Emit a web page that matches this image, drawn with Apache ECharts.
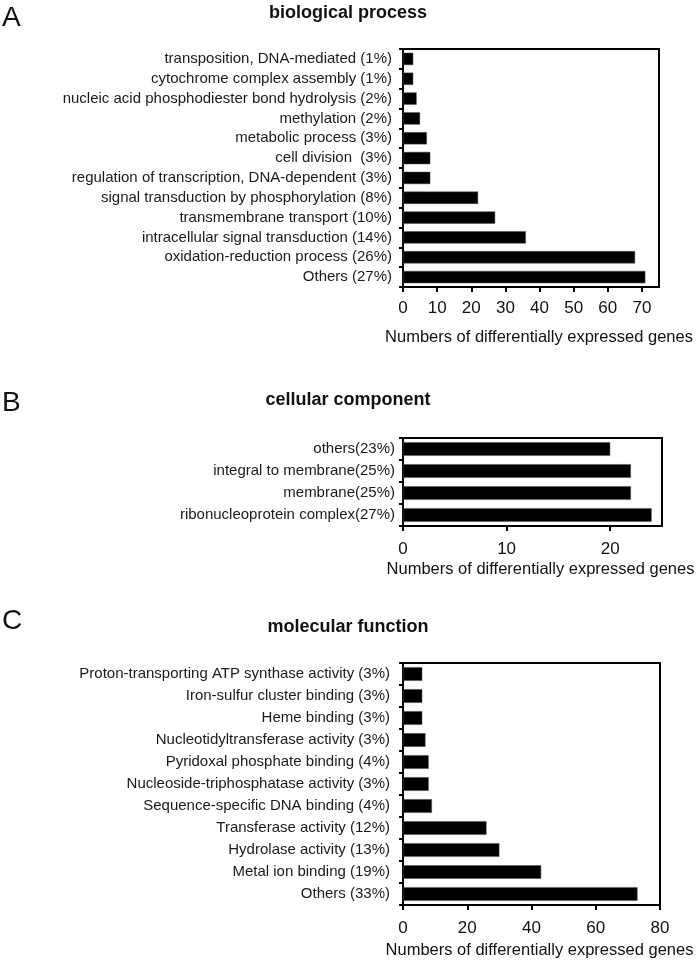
<!DOCTYPE html>
<html>
<head>
<meta charset="utf-8">
<script src="https://cdn.jsdelivr.net/npm/echarts@6/dist/echarts.min.js"></script>
<style>html,body{margin:0;padding:0;background:#fff;}#c{width:700px;height:961px;}</style>
</head>
<body>
<div id="c"></div>
<script>
// Panel A: biological process
const catsA = [
  'transposition, DNA-mediated (1%)',
  'cytochrome complex assembly (1%)',
  'nucleic acid phosphodiester bond hydrolysis (2%)',
  'methylation (2%)',
  'metabolic process (3%)',
  'cell division  (3%)',
  'regulation of transcription, DNA-dependent (3%)',
  'signal transduction by phosphorylation (8%)',
  'transmembrane transport (10%)',
  'intracellular signal transduction (14%)',
  'oxidation-reduction process (26%)',
  'Others (27%)'
];
const valsA = [3, 3, 4, 5, 7, 8, 8, 22, 27, 36, 68, 71];

// Panel B: cellular component
const catsB = [
  'others(23%)',
  'integral to membrane(25%)',
  'membrane(25%)',
  'ribonucleoprotein complex(27%)'
];
const valsB = [20, 22, 22, 24];

// Panel C: molecular function
const catsC = [
  'Proton-transporting ATP synthase activity (3%)',
  'Iron-sulfur cluster binding (3%)',
  'Heme binding (3%)',
  'Nucleotidyltransferase activity (3%)',
  'Pyridoxal phosphate binding (4%)',
  'Nucleoside-triphosphatase activity (3%)',
  'Sequence-specific DNA binding (4%)',
  'Transferase activity (12%)',
  'Hydrolase activity (13%)',
  'Metal ion binding (19%)',
  'Others (33%)'
];
const valsC = [6, 6, 6, 7, 8, 8, 9, 26, 30, 43, 73];

const panelTitles = ['biological process', 'cellular component', 'molecular function'];
const panelLetters = ['A', 'B', 'C'];
const axisName = 'Numbers of differentially expressed genes';

const FONT = '"Liberation Sans", Arial, sans-serif';

const chart = echarts.init(document.getElementById('c'), null, {renderer: 'canvas'});

const grids = [
  {left: 403, top: 49, width: 256, height: 238},
  {left: 403, top: 438, width: 259, height: 88},
  {left: 403, top: 663, width: 257, height: 242}
];

const xCfg = [
  {max: 75, interval: 10, labelSize: 17, margin: 13, nameGap: 42, showMax: false},
  {max: 25, interval: 10, labelSize: 17, margin: 15, nameGap: 35, showMax: false},
  {max: 80, interval: 20, labelSize: 17, margin: 15, nameGap: 37, showMax: true}
];
const yCfg = [
  {cats: catsA, size: 15, margin: 11},
  {cats: catsB, size: 15, margin: 8},
  {cats: catsC, size: 15, margin: 13}
];
const vals = [valsA, valsB, valsC];

const titleTops = [4, 391, 618];
const letterTops = [4, 389, 607];

const option = {
  animation: false,
  backgroundColor: '#fff',
  title: [].concat(
    panelTitles.map((t, i) => ({
      text: t, left: 348, top: titleTops[i], padding: 0, textAlign: 'center',
      textStyle: {fontFamily: FONT, fontSize: 18, fontWeight: 'bold', color: '#111'}
    })),
    panelLetters.map((t, i) => ({
      text: t, left: 2, top: letterTops[i], padding: 0,
      textStyle: {fontFamily: FONT, fontSize: 28, fontWeight: 'normal', color: '#111'}
    }))
  ),
  grid: grids.map(g => Object.assign({show: true, borderColor: '#000', borderWidth: 2, backgroundColor: 'transparent'}, g)),
  xAxis: xCfg.map((c, i) => ({
    type: 'value', gridIndex: i, min: 0, max: c.max, interval: c.interval,
    axisLine: {show: true, lineStyle: {color: '#000', width: 2}},
    axisTick: {show: true, length: 5, lineStyle: {color: '#000', width: 2}},
    splitLine: {show: false},
    axisLabel: {color: '#111', fontSize: c.labelSize, fontFamily: FONT, margin: c.margin, showMaxLabel: c.showMax},
    name: axisName, nameLocation: 'middle', nameGap: c.nameGap,
    nameTextStyle: {color: '#111', fontSize: 16.5, fontFamily: FONT, padding: [0, 0, 0, 16]}
  })),
  yAxis: yCfg.map((c, i) => ({
    type: 'category', gridIndex: i, data: c.cats, inverse: true,
    axisLine: {show: true, lineStyle: {color: '#000', width: 2}},
    axisTick: {show: true, length: 4, lineStyle: {color: '#000', width: 2}},
    axisLabel: {color: '#1a1a1a', fontSize: c.size, fontFamily: FONT, margin: c.margin, interval: 0}
  })),
  series: vals.map((v, i) => ({
    type: 'bar', xAxisIndex: i, yAxisIndex: i, data: v,
    barWidth: '62%',
    itemStyle: {color: '#000', borderColor: '#555', borderWidth: 0.5}
  }))
};
chart.setOption(option);
</script>
</body>
</html>
